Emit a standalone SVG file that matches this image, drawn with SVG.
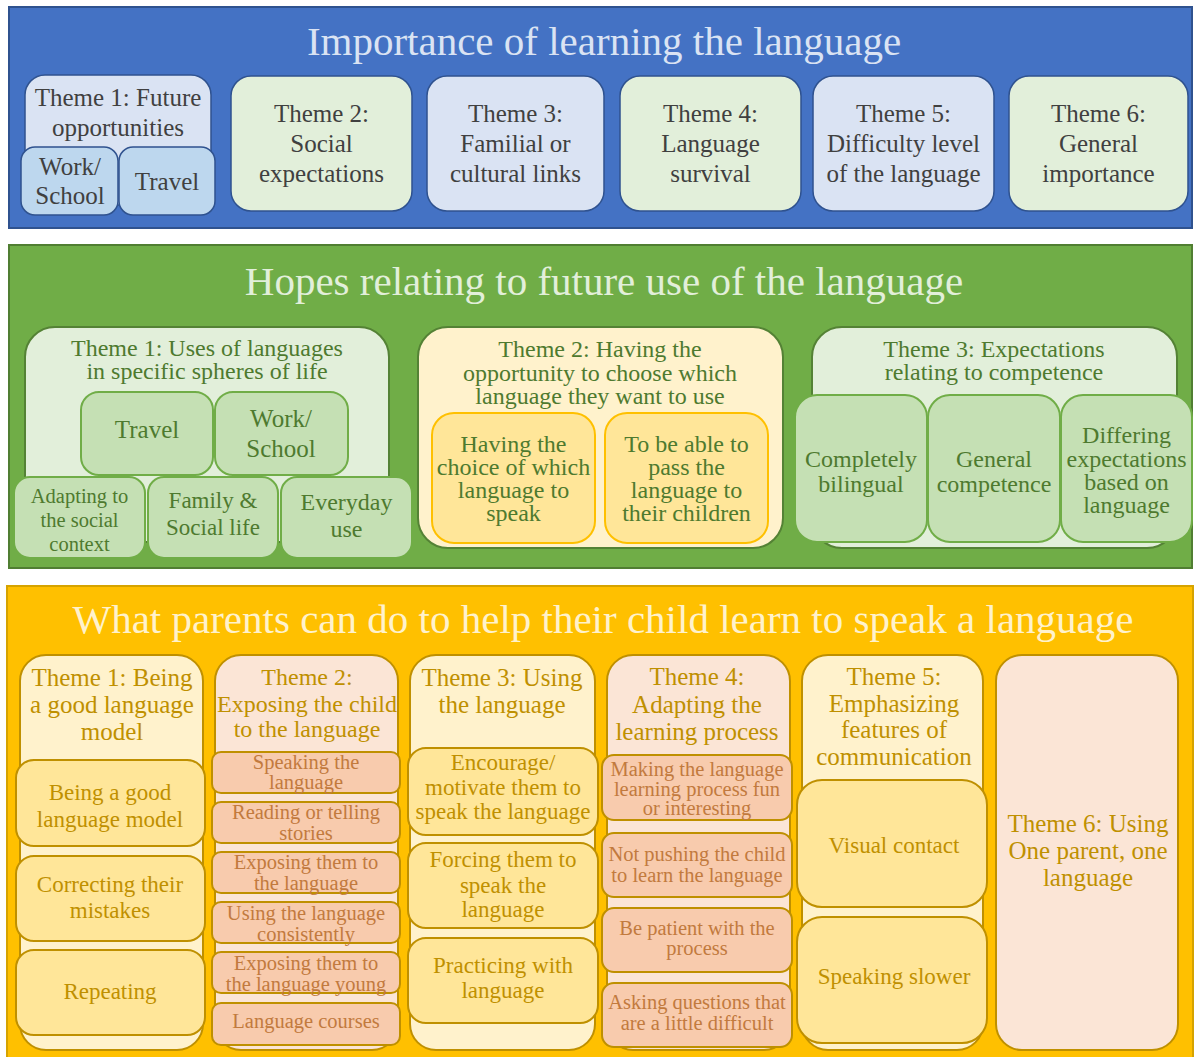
<svg xmlns="http://www.w3.org/2000/svg" width="1195" height="1057" viewBox="0 0 1195 1057" font-family="'Liberation Serif', Tinos, 'Times New Roman', Times, 'DejaVu Serif', 'Noto Serif', serif">
<style>
text{font-family:'Liberation Serif',Tinos,'Times New Roman',Times,'DejaVu Serif','Noto Serif',serif;text-anchor:middle;}
.ttl{font-size:41px;}
.t25{font-size:25px;}
.t24{font-size:24px;}
.t23{font-size:23px;}
.t20{font-size:20.5px;}
.bP{fill:#4472C4;stroke:#2F528F;stroke-width:2;}
.bLB{fill:#DAE3F3;stroke:#2F528F;stroke-width:1.5;}
.bLG{fill:#E2EFDA;stroke:#2F528F;stroke-width:1.5;}
.bSB{fill:#BDD7EE;stroke:#2F528F;stroke-width:1.5;}
.tB{fill:#404040;}
.gP{fill:#70AD47;stroke:#507E32;stroke-width:2;}
.gT{fill:#E2EFDA;stroke:#548235;stroke-width:2;}
.gY{fill:#FFF2CC;stroke:#548235;stroke-width:2;}
.gS{fill:#C5E0B4;stroke:#70AD47;stroke-width:2;}
.gYS{fill:#FFE699;stroke:#FFC000;stroke-width:2;}
.tG{fill:#4E7A2F;}
.oP{fill:#FFC000;stroke:#D6A300;stroke-width:2;}
.oY{fill:#FFF2CC;stroke:#BF9000;stroke-width:2;}
.oPe{fill:#FBE5D6;stroke:#BF9000;stroke-width:2;}
.oYS{fill:#FFE699;stroke:#BF9000;stroke-width:2;}
.oPS{fill:#F8CBAD;stroke:#BF9000;stroke-width:2;}
.tO{fill:#BF9000;}
.tR{fill:#C27A3E;}
</style>

<!-- ===== Panel 1 ===== -->
<g id="panel-importance">
<rect class="bP" x="9" y="7" width="1183" height="221"/>
<text class="ttl" x="604" y="55" fill="#DAE3F3">Importance of learning the language</text>
</g>
<g id="imp-theme1">
<rect class="bLB" x="25" y="75" width="186" height="130" rx="20"/>
<text class="t25 tB" x="118" y="106">Theme 1: Future</text>
<text class="t25 tB" x="118" y="136">opportunities</text>
</g>
<g id="imp-work">
<rect class="bSB" x="21" y="147" width="97" height="68" rx="14"/>
<text class="t25 tB" x="70" y="175">Work/</text>
<text class="t25 tB" x="70" y="204">School</text>
</g>
<g id="imp-travel">
<rect class="bSB" x="119" y="147" width="96" height="68" rx="14"/>
<text class="t25 tB" x="167" y="190">Travel</text>
</g>
<g id="imp-theme2">
<rect class="bLG" x="231" y="76" width="181" height="135" rx="20"/>
<text class="t25 tB" x="321.5" y="122">Theme 2:</text>
<text class="t25 tB" x="321.5" y="152">Social</text>
<text class="t25 tB" x="321.5" y="182">expectations</text>
</g>
<g id="imp-theme3">
<rect class="bLB" x="427" y="76" width="177" height="135" rx="20"/>
<text class="t25 tB" x="515.5" y="122">Theme 3:</text>
<text class="t25 tB" x="515.5" y="152">Familial or</text>
<text class="t25 tB" x="515.5" y="182">cultural links</text>
</g>
<g id="imp-theme4">
<rect class="bLG" x="620" y="76" width="181" height="135" rx="20"/>
<text class="t25 tB" x="710.5" y="122">Theme 4:</text>
<text class="t25 tB" x="710.5" y="152">Language</text>
<text class="t25 tB" x="710.5" y="182">survival</text>
</g>
<g id="imp-theme5">
<rect class="bLB" x="813" y="76" width="181" height="135" rx="20"/>
<text class="t25 tB" x="903.5" y="122">Theme 5:</text>
<text class="t25 tB" x="903.5" y="152">Difficulty level</text>
<text class="t25 tB" x="903.5" y="182">of the language</text>
</g>
<g id="imp-theme6">
<rect class="bLG" x="1009" y="76" width="179" height="135" rx="20"/>
<text class="t25 tB" x="1098.5" y="122">Theme 6:</text>
<text class="t25 tB" x="1098.5" y="152">General</text>
<text class="t25 tB" x="1098.5" y="182">importance</text>
</g>

<!-- ===== Panel 2 ===== -->
<g id="panel-hopes">
<rect class="gP" x="9" y="245" width="1183" height="323"/>
<text class="ttl" x="604" y="295" fill="#E2EFDA">Hopes relating to future use of the language</text>
</g>
<g id="hop-theme1">
<rect class="gT" x="25" y="327" width="364" height="215" rx="30"/>
<text class="t24 tG" x="207" y="356">Theme 1: Uses of languages</text>
<text class="t24 tG" x="207" y="379">in specific spheres of life</text>
</g>
<g id="hop-travel">
<rect class="gS" x="81" y="392" width="132" height="83" rx="18"/>
<text class="t25 tG" x="147" y="438">Travel</text>
</g>
<g id="hop-work">
<rect class="gS" x="215" y="392" width="133" height="83" rx="18"/>
<text class="t25 tG" x="281" y="427">Work/</text>
<text class="t25 tG" x="281" y="457">School</text>
</g>
<g id="hop-adapting">
<rect class="gS" x="14" y="477" width="131" height="81" rx="16"/>
<text class="t20 tG" x="79.5" y="503">Adapting to</text>
<text class="t20 tG" x="79.5" y="527">the social</text>
<text class="t20 tG" x="79.5" y="551">context</text>
</g>
<g id="hop-family">
<rect class="gS" x="148" y="477" width="130" height="81" rx="16"/>
<text class="t23 tG" x="213" y="508">Family &amp;</text>
<text class="t23 tG" x="213" y="535">Social life</text>
</g>
<g id="hop-everyday">
<rect class="gS" x="281" y="477" width="131" height="81" rx="16"/>
<text class="t24 tG" x="346.5" y="510">Everyday</text>
<text class="t24 tG" x="346.5" y="537">use</text>
</g>
<g id="hop-theme2">
<rect class="gY" x="418" y="327" width="365" height="221" rx="30"/>
<text class="t24 tG" x="600" y="357">Theme 2: Having the</text>
<text class="t24 tG" x="600" y="381">opportunity to choose which</text>
<text class="t24 tG" x="600" y="404">language they want to use</text>
</g>
<g id="hop-choice">
<rect class="gYS" x="432" y="413" width="163" height="130" rx="22"/>
<text class="t24 tG" x="513.5" y="452">Having the</text>
<text class="t24 tG" x="513.5" y="475">choice of which</text>
<text class="t24 tG" x="513.5" y="498">language to</text>
<text class="t24 tG" x="513.5" y="521">speak</text>
</g>
<g id="hop-pass">
<rect class="gYS" x="605" y="413" width="163" height="130" rx="22"/>
<text class="t24 tG" x="686.5" y="452">To be able to</text>
<text class="t24 tG" x="686.5" y="475">pass the</text>
<text class="t24 tG" x="686.5" y="498">language to</text>
<text class="t24 tG" x="686.5" y="521">their children</text>
</g>
<g id="hop-theme3">
<rect class="gT" x="812" y="327" width="365" height="221" rx="30"/>
<text class="t24 tG" x="994" y="357">Theme 3: Expectations</text>
<text class="t24 tG" x="994" y="380">relating to competence</text>
</g>
<g id="hop-bilingual">
<rect class="gS" x="795" y="395" width="132" height="147" rx="22"/>
<text class="t24 tG" x="861" y="467">Completely</text>
<text class="t24 tG" x="861" y="492">bilingual</text>
</g>
<g id="hop-general">
<rect class="gS" x="928" y="395" width="132" height="147" rx="22"/>
<text class="t24 tG" x="994" y="467">General</text>
<text class="t24 tG" x="994" y="492">competence</text>
</g>
<g id="hop-differing">
<rect class="gS" x="1061" y="395" width="131" height="147" rx="22"/>
<text class="t24 tG" x="1126.5" y="443">Differing</text>
<text class="t24 tG" x="1126.5" y="467">expectations</text>
<text class="t24 tG" x="1126.5" y="490">based on</text>
<text class="t24 tG" x="1126.5" y="513">language</text>
</g>

<!-- ===== Panel 3 ===== -->
<g id="panel-parents">
<rect class="oP" x="7" y="586" width="1186" height="480"/>
<text class="ttl" x="603" y="633" fill="#FFF2CC">What parents can do to help their child learn to speak a language</text>
</g>
<g id="par-theme1">
<rect class="oY" x="20" y="655" width="183" height="395" rx="26"/>
<text class="t25 tO" x="112" y="686">Theme 1: Being</text>
<text class="t25 tO" x="112" y="713">a good language</text>
<text class="t25 tO" x="112" y="740">model</text>
</g>
<g id="par-model">
<rect class="oYS" x="16" y="760" width="189" height="86" rx="18"/>
<text class="t23 tO" x="110" y="800">Being a good</text>
<text class="t23 tO" x="110" y="827">language model</text>
</g>
<g id="par-correcting">
<rect class="oYS" x="16" y="856" width="189" height="85" rx="18"/>
<text class="t23 tO" x="110" y="892">Correcting their</text>
<text class="t23 tO" x="110" y="918">mistakes</text>
</g>
<g id="par-repeating">
<rect class="oYS" x="16" y="950" width="189" height="85" rx="18"/>
<text class="t23 tO" x="110" y="999">Repeating</text>
</g>
<g id="par-theme2">
<rect class="oPe" x="215" y="655" width="183" height="395" rx="26"/>
<text class="t24 tO" x="307" y="685">Theme 2:</text>
<text class="t24 tO" x="307" y="712">Exposing the child</text>
<text class="t24 tO" x="307" y="737">to the language</text>
</g>
<g id="par-speaking">
<rect class="oPS" x="212" y="752" width="188" height="41" rx="9"/>
<text class="t20 tR" x="306" y="769">Speaking the</text>
<text class="t20 tR" x="306" y="789">language</text>
</g>
<g id="par-reading">
<rect class="oPS" x="212" y="802" width="188" height="41" rx="9"/>
<text class="t20 tR" x="306" y="819">Reading or telling</text>
<text class="t20 tR" x="306" y="840">stories</text>
</g>
<g id="par-exposing">
<rect class="oPS" x="212" y="852" width="188" height="41" rx="9"/>
<text class="t20 tR" x="306" y="869">Exposing them to</text>
<text class="t20 tR" x="306" y="890">the language</text>
</g>
<g id="par-consistent">
<rect class="oPS" x="212" y="902" width="188" height="41" rx="9"/>
<text class="t20 tR" x="306" y="920">Using the language</text>
<text class="t20 tR" x="306" y="941">consistently</text>
</g>
<g id="par-young">
<rect class="oPS" x="212" y="952" width="188" height="41" rx="9"/>
<text class="t20 tR" x="306" y="970">Exposing them to</text>
<text class="t20 tR" x="306" y="991">the language young</text>
</g>
<g id="par-courses">
<rect class="oPS" x="212" y="1003" width="188" height="42" rx="9"/>
<text class="t20 tR" x="306" y="1028">Language courses</text>
</g>
<g id="par-theme3">
<rect class="oY" x="410" y="655" width="185" height="395" rx="26"/>
<text class="t25 tO" x="502" y="686">Theme 3: Using</text>
<text class="t25 tO" x="502" y="713">the language</text>
</g>
<g id="par-encourage">
<rect class="oYS" x="408" y="748" width="190" height="87" rx="18"/>
<text class="t23 tO" x="503" y="770">Encourage/</text>
<text class="t23 tO" x="503" y="795">motivate them to</text>
<text class="t23 tO" x="503" y="819">speak the language</text>
</g>
<g id="par-forcing">
<rect class="oYS" x="408" y="843" width="190" height="85" rx="18"/>
<text class="t23 tO" x="503" y="867">Forcing them to</text>
<text class="t23 tO" x="503" y="893">speak the</text>
<text class="t23 tO" x="503" y="917">language</text>
</g>
<g id="par-practicing">
<rect class="oYS" x="408" y="938" width="190" height="85" rx="18"/>
<text class="t23 tO" x="503" y="973">Practicing with</text>
<text class="t23 tO" x="503" y="998">language</text>
</g>
<g id="par-theme4">
<rect class="oPe" x="607" y="655" width="183" height="395" rx="26"/>
<text class="t25 tO" x="697" y="685">Theme 4:</text>
<text class="t25 tO" x="697" y="713">Adapting the</text>
<text class="t25 tO" x="697" y="740">learning process</text>
</g>
<g id="par-fun">
<rect class="oPS" x="602" y="755" width="190" height="65" rx="12"/>
<text class="t20 tR" x="697" y="776">Making the language</text>
<text class="t20 tR" x="697" y="796">learning process fun</text>
<text class="t20 tR" x="697" y="815">or interesting</text>
</g>
<g id="par-pushing">
<rect class="oPS" x="602" y="833" width="190" height="64" rx="12"/>
<text class="t20 tR" x="697" y="861">Not pushing the child</text>
<text class="t20 tR" x="697" y="882">to learn the language</text>
</g>
<g id="par-patient">
<rect class="oPS" x="602" y="908" width="190" height="64" rx="12"/>
<text class="t20 tR" x="697" y="935">Be patient with the</text>
<text class="t20 tR" x="697" y="955">process</text>
</g>
<g id="par-asking">
<rect class="oPS" x="602" y="983" width="190" height="64" rx="12"/>
<text class="t20 tR" x="697" y="1009">Asking questions that</text>
<text class="t20 tR" x="697" y="1030">are a little difficult</text>
</g>
<g id="par-theme5">
<rect class="oY" x="802" y="655" width="181" height="395" rx="26"/>
<text class="t25 tO" x="894" y="685">Theme 5:</text>
<text class="t25 tO" x="894" y="712">Emphasizing</text>
<text class="t25 tO" x="894" y="738">features of</text>
<text class="t25 tO" x="894" y="765">communication</text>
</g>
<g id="par-visual">
<rect class="oYS" x="797" y="780" width="190" height="127" rx="25"/>
<text class="t23 tO" x="894" y="853">Visual contact</text>
</g>
<g id="par-slower">
<rect class="oYS" x="797" y="917" width="190" height="126" rx="25"/>
<text class="t23 tO" x="894" y="984">Speaking slower</text>
</g>
<g id="par-theme6">
<rect class="oPe" x="996" y="655" width="182" height="395" rx="26"/>
<text class="t25 tO" x="1088" y="832">Theme 6: Using</text>
<text class="t25 tO" x="1088" y="859">One parent, one</text>
<text class="t25 tO" x="1088" y="886">language</text>
</g>
</svg>
